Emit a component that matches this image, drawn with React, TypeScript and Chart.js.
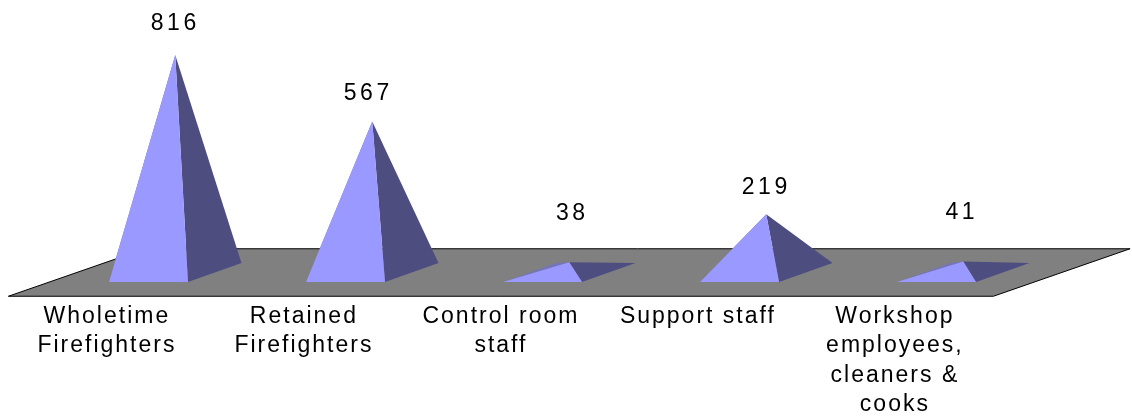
import React, { useEffect, useRef } from "react";
import { Chart, BarController, BarElement, CategoryScale, LinearScale } from "chart.js";

const categories = [
  ["Wholetime", "Firefighters"],
  ["Retained", "Firefighters"],
  ["Control room", "staff"],
  ["Support staff"],
  ["Workshop", "employees,", "cleaners &", "cooks"],
];
const staffCounts = [816, 567, 38, 219, 41];

const labelShiftX = [0, -4, 3, 0, -1.5];
const labelLiftY = [31.5, 27.5, 48.5, 26.5, 48.5];

const FONT = "'Liberation Sans', Arial, sans-serif";
const FLOOR_DX = 68.35;
const FLOOR_DY = 23.75;
const DEPTH_DX = 26.75;
const DEPTH_DY = 9.5;

class PyramidElement extends BarElement {
  static id = "pyramid";
  static defaults = BarElement.defaults;
  static defaultRoutes = BarElement.defaultRoutes;
  draw(ctx: CanvasRenderingContext2D) {
    const { x, y, base, width } = (this as any).getProps(["x", "y", "base", "width"]);
    const o = (this as any).options;
    const half = width / 2;
    const fl = [x - half - DEPTH_DX, base + DEPTH_DY];
    const fr = [x + half - DEPTH_DX, base + DEPTH_DY];
    const br = [x + half + DEPTH_DX, base - DEPTH_DY];
    const bl = [x - half + DEPTH_DX, base - DEPTH_DY];
    const apex = [x, y];
    const face = (pts: number[][], color: string) => {
      ctx.beginPath();
      pts.forEach((p, i) => (i ? ctx.lineTo(p[0], p[1]) : ctx.moveTo(p[0], p[1])));
      ctx.closePath();
      ctx.fillStyle = color;
      ctx.fill();
    };
    ctx.save();
    face([apex, fl, bl], "#7373BF");
    face([apex, fr, br], o.borderColor);
    face([apex, fl, fr], o.backgroundColor);
    ctx.restore();
  }
}

class PyramidController extends BarController {
  static id = "pyramid";
  static defaults = { ...BarController.defaults, dataElementType: "pyramid" };
  static overrides = BarController.overrides;
}

Chart.register(PyramidElement, PyramidController, CategoryScale, LinearScale);

const floorPlugin = {
  id: "floor",
  beforeDraw(chart: any) {
    chart.ctx.letterSpacing = "2px";
  },
  beforeDatasetsDraw(chart: any) {
    const { ctx, scales } = chart;
    const y0 = scales.y.getPixelForValue(0);
    const l = scales.x.left;
    const r = scales.x.right;
    ctx.save();
    ctx.beginPath();
    ctx.moveTo(l - FLOOR_DX, y0 + FLOOR_DY);
    ctx.lineTo(r - FLOOR_DX, y0 + FLOOR_DY);
    ctx.lineTo(r + FLOOR_DX, y0 - FLOOR_DY);
    ctx.lineTo(l + FLOOR_DX, y0 - FLOOR_DY);
    ctx.closePath();
    ctx.fillStyle = "#808080";
    ctx.fill();
    ctx.strokeStyle = "#000000";
    ctx.lineWidth = 1;
    ctx.stroke();
    ctx.restore();
  },
  afterDatasetsDraw(chart: any) {
    const { ctx } = chart;
    const meta = chart.getDatasetMeta(0);
    ctx.save();
    ctx.font = `23px ${FONT}`;
    ctx.letterSpacing = "3.5px";
    ctx.fillStyle = "#000000";
    ctx.textAlign = "center";
    ctx.textBaseline = "middle";
    meta.data.forEach((el: any, i: number) => {
      ctx.fillText(String(staffCounts[i]), el.x + labelShiftX[i], el.y - labelLiftY[i]);
    });
    ctx.restore();
  },
};

export default function App() {
  const ref = useRef<HTMLCanvasElement>(null);
  useEffect(() => {
    const chart = new Chart(ref.current as HTMLCanvasElement, {
      type: "pyramid" as any,
      data: {
        labels: categories as any,
        datasets: [
          {
            label: "Staff",
            data: staffCounts,
            backgroundColor: "#9999FF",
            borderColor: "#4D4D80",
            borderWidth: 0,
            categoryPercentage: 1,
            barPercentage: 0.401,
            clip: false,
          } as any,
        ],
      },
      options: {
        animation: false,
        responsive: false,
        layout: { padding: { left: 76.75, right: 70.25, top: 6, bottom: 0 } },
        plugins: { legend: { display: false }, tooltip: { enabled: false } },
        scales: {
          x: {
            type: "category",
            grid: { display: false, drawTicks: false },
            border: { display: false },
            afterFit(scale: any) {
              scale.height = 146.5;
            },
            ticks: {
              autoSkip: false,
              maxRotation: 0,
              minRotation: 0,
              labelOffset: -68.35,
              padding: 29,
              color: "#000000",
              font: { family: FONT, size: 23, lineHeight: 1.285 },
            },
          },
          y: { type: "linear", display: false, min: 0, max: 1000 },
        },
      },
      plugins: [floorPlugin],
    } as any);
    return () => chart.destroy();
  }, []);
  return (
    <div style={{ position: "fixed", left: 0, top: 0, width: 1132, height: 419, background: "#fff" }}>
      <canvas ref={ref} width={1132} height={419} style={{ display: "block" }} />
    </div>
  );
}
